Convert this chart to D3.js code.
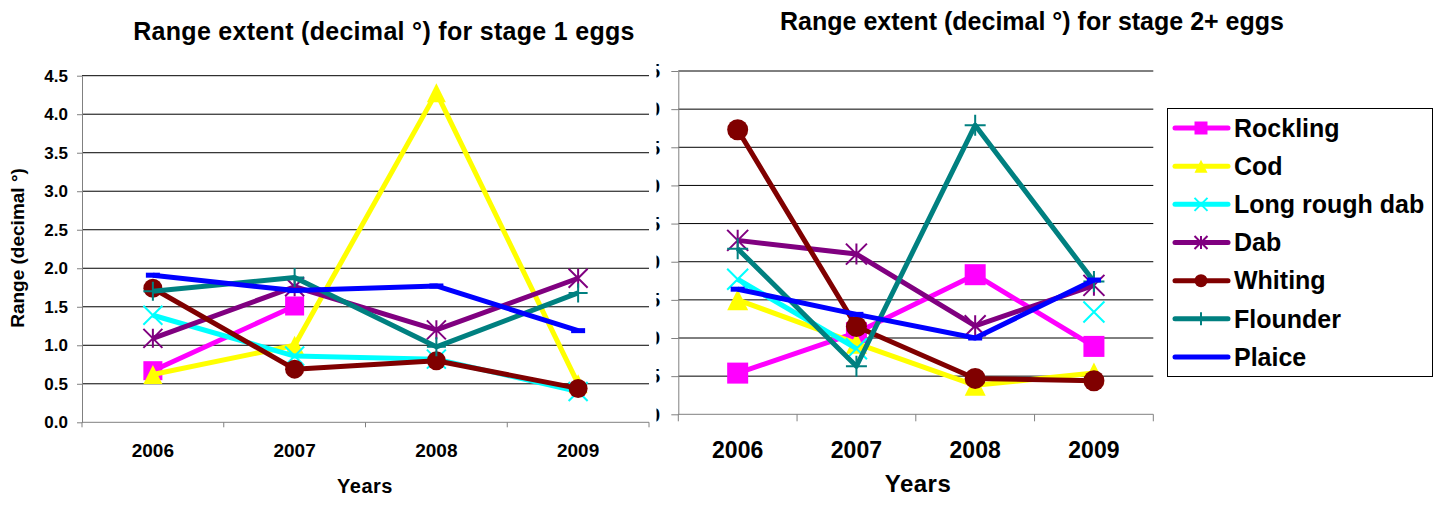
<!DOCTYPE html>
<html>
<head>
<meta charset="utf-8">
<script src="https://cdn.jsdelivr.net/npm/d3@7"></script>
<style>
  body { margin: 0; background: #fff; }
  svg { display: block; font-family: "Liberation Sans", Arial, sans-serif; font-weight: bold; }
</style>
</head>
<body>
<svg id="chart" width="1444" height="505"></svg>
<script>
// ---- data ----
const years = ["2006", "2007", "2008", "2009"];
const species = ["Rockling", "Cod", "Long rough dab", "Dab", "Whiting", "Flounder", "Plaice"];
const yTicks = [0, 0.5, 1, 1.5, 2, 2.5, 3, 3.5, 4, 4.5];

// stage 1 eggs: range extent (decimal degrees) per year
const rockling1     = [0.67, 1.51, null, null];
const cod1          = [0.62, 1.00, 4.28, 0.50];
const longRoughDab1 = [1.39, 0.86, 0.82, 0.40];
const dab1          = [1.09, 1.76, 1.20, 1.87];
const whiting1      = [1.74, 0.69, 0.80, 0.44];
const flounder1     = [1.70, 1.88, 0.98, 1.68];
const plaice1       = [1.91, 1.71, 1.77, 1.19];

// stage 2+ eggs
const rockling2     = [0.54, 1.07, 1.83, 0.89];
const cod2          = [1.50, 0.93, 0.38, 0.54];
const longRoughDab2 = [1.77, 0.86, null, 1.34];
const dab2          = [2.28, 2.10, 1.16, 1.69];
const whiting2      = [3.73, 1.15, 0.47, 0.44];
const flounder2     = [2.17, 0.63, 3.79, 1.74];
const plaice2       = [1.64, 1.31, 1.00, 1.76];

const stage1 = [rockling1, cod1, longRoughDab1, dab1, whiting1, flounder1, plaice1];
const stage2 = [rockling2, cod2, longRoughDab2, dab2, whiting2, flounder2, plaice2];

const colors  = ["#FF00FF", "#FFFF00", "#00FFFF", "#800080", "#800000", "#008080", "#0000FF"];
const markers = ["square", "triangle", "x", "star", "circle", "plus", "dash"];

const svg = d3.select("#chart");

// ---- marker shapes ----
function drawMarker(g, type, color, s) {
  const h = s / 2;
  if (type === "square") {
    g.append("rect").attr("x", -h).attr("y", -h).attr("width", s).attr("height", s).attr("fill", color);
  } else if (type === "triangle") {
    g.append("path").attr("d", `M0,${-h}L${h},${h}L${-h},${h}Z`).attr("fill", color);
  } else if (type === "circle") {
    g.append("circle").attr("r", h).attr("fill", color);
  } else if (type === "x") {
    g.append("path").attr("d", `M${-h},${-h}L${h},${h}M${-h},${h}L${h},${-h}`)
      .attr("stroke", color).attr("stroke-width", 2).attr("fill", "none");
  } else if (type === "star") {
    g.append("path").attr("d", `M${-h},${-h}L${h},${h}M${-h},${h}L${h},${-h}M0,${-h}L0,${h}`)
      .attr("stroke", color).attr("stroke-width", 2).attr("fill", "none");
  } else if (type === "plus") {
    g.append("path").attr("d", `M${-h},0L${h},0M0,${-h}L0,${h}`)
      .attr("stroke", color).attr("stroke-width", 2).attr("fill", "none");
  } else if (type === "dash") {
    g.append("rect").attr("x", -7).attr("y", -2.5).attr("width", 14).attr("height", 5).attr("fill", color);
  }
}

// ---- one chart panel ----
function drawPanel(cfg, series) {
  const g = svg.append("g");
  const x = d3.scaleBand().domain(years).range([cfg.left, cfg.right]);
  const y = d3.scaleLinear().domain([0, 4.5]).range([cfg.bottom, cfg.top]);
  const cx = d => x(d) + x.bandwidth() / 2;

  // horizontal gridlines
  g.append("g").selectAll("line").data(yTicks.filter(v => v > 0)).join("line")
    .attr("x1", cfg.left).attr("x2", cfg.right)
    .attr("y1", d => y(d)).attr("y2", d => y(d))
    .attr("stroke", "#000").attr("stroke-width", 1);

  // y axis (wrapped so an optional clip works in page coordinates)
  const yWrap = g.append("g");
  if (cfg.clipLabels) yWrap.attr("clip-path", "url(#" + cfg.clipLabels + ")");
  const yAxis = yWrap.append("g")
    .attr("transform", `translate(${cfg.left},0)`)
    .call(d3.axisLeft(y).tickValues(yTicks).tickFormat(d3.format(".1f"))
      .tickSize(cfg.yTick).tickSizeOuter(0).tickPadding(cfg.yPad));
  yAxis.select(".domain").attr("stroke", "#808080");
  yAxis.selectAll(".tick line").attr("stroke", "#808080");
  yAxis.selectAll(".tick text").attr("fill", "#000")
    .style("font-size", cfg.yFont + "px").style("font-family", "Liberation Sans, Arial, sans-serif")
    .style("font-weight", "bold");

  // x axis line with ticks at category boundaries
  const bounds = years.map(d => x(d)).concat([cfg.right]);
  g.append("line").attr("x1", cfg.left).attr("x2", cfg.right)
    .attr("y1", cfg.bottom).attr("y2", cfg.bottom).attr("stroke", "#808080");
  g.append("g").selectAll("line").data(bounds).join("line")
    .attr("x1", d => d).attr("x2", d => d)
    .attr("y1", cfg.bottom).attr("y2", cfg.bottom + cfg.xTick)
    .attr("stroke", "#808080");
  g.append("g").selectAll("text").data(years).join("text")
    .attr("x", cx).attr("y", cfg.xLabelY)
    .attr("text-anchor", "middle").style("font-size", cfg.xFont + "px").text(d => d);

  // axis titles and chart title
  g.append("text").attr("x", cfg.yearsX).attr("y", cfg.yearsY).attr("text-anchor", "middle")
    .style("font-size", cfg.yearsFont + "px").style("letter-spacing", "0.5px").text("Years");
  g.append("text").attr("x", cfg.titleX).attr("y", cfg.titleY).attr("text-anchor", "middle")
    .style("font-size", "25px").style("letter-spacing", cfg.titleSpacing + "px").text(cfg.title);
  if (cfg.yTitle) {
    g.append("text").attr("transform", `translate(${cfg.yTitleX},${cfg.yTitleY}) rotate(-90)`)
      .attr("text-anchor", "middle").style("font-size", "19px").text(cfg.yTitle);
  }

  // series lines then markers, in legend order
  const line = d3.line().defined(d => d.v != null).x(d => cx(d.year)).y(d => y(d.v));
  series.forEach((vals, i) => {
    const pts = vals.map((v, j) => ({ year: years[j], v }));
    const sg = g.append("g");
    sg.append("path").attr("d", line(pts)).attr("fill", "none")
      .attr("stroke", colors[i]).attr("stroke-width", 5).attr("stroke-linejoin", "round");
    pts.filter(p => p.v != null).forEach(p => {
      const mg = sg.append("g").attr("transform", `translate(${cx(p.year)},${y(p.v)})`);
      drawMarker(mg, markers[i], colors[i], cfg.markerSize);
    });
  });
}

// clip for the second panel's value labels (page coordinates)
svg.append("defs").append("clipPath").attr("id", "clipRight")
  .append("rect").attr("x", 656.5).attr("y", 0).attr("width", 600).attr("height", 505);

drawPanel({
  left: 82, right: 649, top: 75.7, bottom: 422.3,
  yTick: 5, yPad: 9, yFont: 17,
  xTick: 5, xLabelY: 457, xFont: 19,
  yearsX: 365, yearsY: 493, yearsFont: 20,
  title: "Range extent (decimal °) for stage 1 eggs", titleX: 384, titleY: 40, titleSpacing: 0.3,
  yTitle: "Range (decimal °)", yTitleX: 24, yTitleY: 248,
  markerSize: 19
}, stage1);

drawPanel({
  left: 678.3, right: 1153.3, top: 71, bottom: 414.3,
  yTick: 7, yPad: 11, yFont: 21, clipLabels: "clipRight",
  xTick: 7, xLabelY: 458, xFont: 23,
  yearsX: 918, yearsY: 492, yearsFont: 24,
  title: "Range extent (decimal °) for stage 2+ eggs", titleX: 1032, titleY: 30, titleSpacing: 0,
  markerSize: 21
}, stage2);

// ---- legend ----
const legend = svg.append("g");
legend.append("rect").attr("x", 1167.5).attr("y", 108.5).attr("width", 265).attr("height", 268)
  .attr("fill", "#fff").attr("stroke", "#000").attr("stroke-width", 1);
const ly = d3.scalePoint().domain(species).range([128, 357]);
species.forEach((name, i) => {
  const yy = ly(name);
  legend.append("line").attr("x1", 1175).attr("x2", 1228).attr("y1", yy).attr("y2", yy)
    .attr("stroke", colors[i]).attr("stroke-width", 5).attr("stroke-linecap", "round");
  const mg = legend.append("g").attr("transform", `translate(1201,${yy})`);
  if (markers[i] !== "dash") drawMarker(mg, markers[i], colors[i], 13);
  legend.append("text").attr("x", 1234).attr("y", yy).attr("dy", "0.35em")
    .style("font-size", "25px").text(name);
});
</script>
</body>
</html>
